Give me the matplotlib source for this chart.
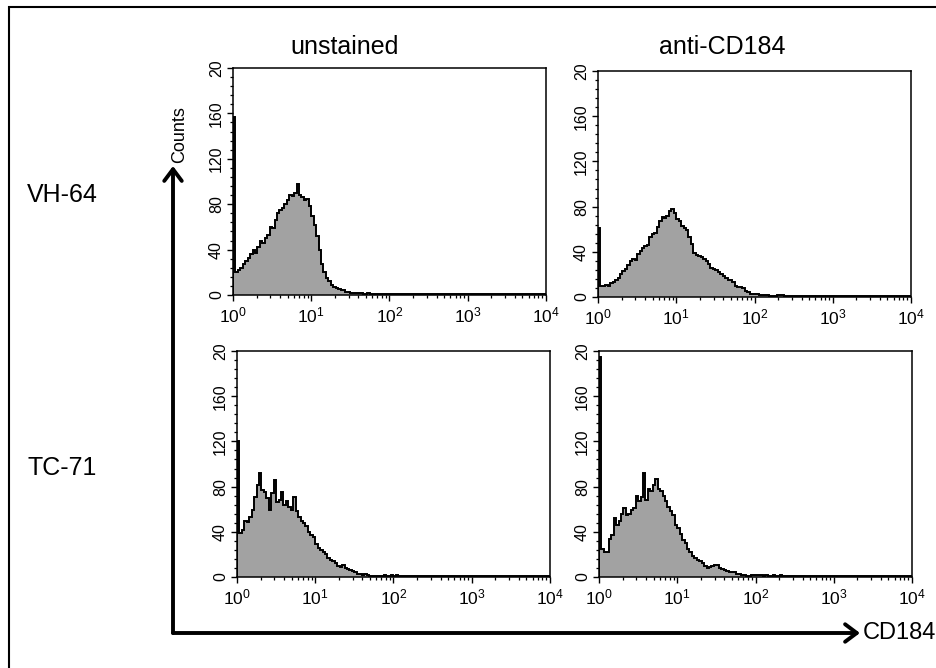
import numpy as np
import matplotlib
matplotlib.use("Agg")
import matplotlib.pyplot as plt
from matplotlib.ticker import FixedLocator, LogLocator, LogFormatterSciNotation, NullFormatter
from matplotlib.patches import Rectangle, FancyArrowPatch

plt.rcParams['font.family'] = ['Liberation Sans', 'DejaVu Sans']
plt.rcParams['mathtext.default'] = 'regular'

# ---------------- data (counts per channel bin, 32 bins per decade, 10^0..10^4) ----------------
row_labels = ["VH-64", "TC-71"]
col_labels = ["unstained", "anti-CD184"]
ytick_vals = [0, 40, 80, 120, 160, 200]
ytick_labels = ["0", "40", "80", "120", "160", "20"]
xtick_exps = [0, 1, 2, 3, 4]

vh64_unstained = [
    157, 20, 22, 24, 27, 30, 33, 36, 40, 37,
    42, 48, 46, 50, 53, 60, 59, 66, 72, 75,
    77, 80, 84, 88, 87, 90, 98, 88, 86, 84,
    85, 78, 70, 62, 52, 40, 27, 20, 15, 12,
    9, 7, 6, 5, 4, 4, 3, 3, 2, 2,
    2, 1.5, 1.5, 1, 1, 1.5, 1, 1, 1, 0.5,
    1, 1, 0.5, 1, 0.5, 0.5, 1, 0.5, 0.5, 0.5,
    1, 0.5, 0.5, 0.5, 0.5, 0.5, 1, 0.5, 0.5, 0.5,
    0.5, 0.5, 0.5, 0.5, 0.5, 0.5, 0.5, 0.5, 0.5, 0.5,
    0.5, 0.5, 0.5, 0.5, 0.5, 0.5, 0.5, 0.5, 0.5, 0.5,
    0.5, 0.5, 0.5, 0.5, 0.5, 0.5, 0.5, 0.5, 0.5, 0.5,
    0.5, 0.5, 0.5, 0.5, 0.5, 0.5, 0.5, 0.5, 0.5, 0.5,
    0.5, 0.5, 0.5, 0.5, 0.5, 0.5, 0.5, 1,
]

vh64_cd184 = [
    61, 10, 10, 11, 10, 12, 13, 15, 17, 20,
    23, 25, 28, 32, 34, 33, 38, 41, 43, 45,
    46, 53, 56, 57, 62, 67, 71, 70, 72, 76,
    78, 74, 69, 67, 63, 61, 59, 53, 47, 39,
    37, 36, 35, 34, 32, 29, 26, 25, 24, 22,
    20, 19, 17, 15, 15, 13, 10, 9, 9, 8,
    5, 4, 3, 3, 3, 2.5, 2, 2, 2, 1.5,
    1, 0.5, 1, 1.5, 2, 1.5, 1, 1, 0.5, 1,
    1, 0.5, 0.5, 1, 0.5, 0.5, 0.5, 0.5, 0.5, 0.5,
    0.5, 0.5, 0.5, 0.5, 0.5, 0.5, 0.5, 0.5, 0.5, 0.5,
    0.5, 0.5, 0.5, 0.5, 0.5, 0.5, 0.5, 0.5, 1, 0.5,
    0.5, 0.5, 0.5, 0.5, 0.5, 0.5, 0.5, 0.5, 0.5, 0.5,
    0.5, 0.5, 0.5, 0.5, 0.5, 0.5, 0.5, 1,
]

tc71_unstained = [
    120, 39, 42, 50, 49, 53, 59, 71, 81, 92,
    77, 75, 70, 59, 74, 86, 66, 68, 75, 64,
    67, 62, 59, 71, 58, 53, 50, 48, 45, 40,
    37, 35, 29, 26, 24, 22, 20, 17, 15, 14,
    12, 10, 9, 11, 8, 7, 6, 5, 4, 3,
    3, 2, 3, 2, 1, 1, 1, 0.5, 0.5, 1,
    1.5, 1, 1, 2, 1, 1.5, 1, 1, 0.5, 1,
    1, 0.5, 1, 0.5, 0.5, 1, 0.5, 1, 0.5, 0.5,
    0.5, 0.5, 1, 0.5, 0.5, 0.5, 0.5, 0.5, 0.5, 0.5,
    0.5, 0.5, 0.5, 0.5, 0.5, 0.5, 0.5, 0.5, 0.5, 0.5,
    0.5, 0.5, 0.5, 0.5, 0.5, 0.5, 0.5, 0.5, 0.5, 0.5,
    0.5, 0.5, 0.5, 0.5, 0.5, 0.5, 0.5, 0.5, 0.5, 0.5,
    0.5, 0.5, 0.5, 0.5, 0.5, 0.5, 0.5, 1,
]

tc71_cd184 = [
    195, 25, 22, 22, 34, 37, 52, 46, 50, 56,
    61, 55, 56, 59, 61, 72, 67, 71, 92, 68,
    78, 76, 81, 87, 78, 76, 72, 67, 62, 58,
    55, 46, 43, 38, 33, 30, 25, 22, 19, 17,
    15, 14, 12, 10, 8, 9, 10, 11, 11, 8,
    7, 6, 5, 4, 4, 4, 3, 3, 2, 2,
    1, 1, 1.5, 2, 2, 1.5, 1.5, 1, 1.5, 1,
    1, 1.5, 1, 1, 1.5, 1, 1, 0.5, 1, 1,
    1, 0.5, 1, 0.5, 1, 0.5, 0.5, 1, 0.5, 0.5,
    0.5, 0.5, 0.5, 1, 0.5, 0.5, 0.5, 0.5, 0.5, 0.5,
    0.5, 0.5, 0.5, 0.5, 0.5, 1, 0.5, 0.5, 0.5, 0.5,
    0.5, 0.5, 0.5, 0.5, 0.5, 0.5, 0.5, 0.5, 0.5, 0.5,
    0.5, 0.5, 0.5, 0.5, 0.5, 0.5, 0.5, 1,
]

panels = [[vh64_unstained, vh64_cd184], [tc71_unstained, tc71_cd184]]

# ---------------- figure ----------------
W, H = 936, 668
fig = plt.figure(figsize=(W / 100, H / 100), dpi=100)
fig.patch.set_facecolor("white")


def fx(px):
    return px / W


def fy(py):
    return 1 - py / H


# axes boxes in pixel coords (left, top, right, bottom)
boxes = [[(233, 68, 546, 295), (598, 71, 911, 297)],
         [(237, 351, 550, 577), (599, 351, 912, 577)]]

n_bins = len(vh64_unstained)
edges = np.logspace(0, 4, n_bins + 1)

for r in range(2):
    for c in range(2):
        l, t, rr, b = boxes[r][c]
        ax = fig.add_axes([fx(l), fy(b), (rr - l) / W, (b - t) / H])
        vals = np.array(panels[r][c], dtype=float)
        ax.stairs(vals, edges, baseline=0, fill=True, color="#a2a2a2", lw=0)
        ax.stairs(vals, edges, baseline=0, color="black", lw=1.4)
        ax.set_xscale("log")
        ax.set_xlim(1, 1e4)
        ax.set_ylim(0, 200)
        ax.xaxis.set_major_locator(FixedLocator([10.0 ** e for e in xtick_exps]))
        ax.xaxis.set_major_formatter(LogFormatterSciNotation())
        ax.xaxis.set_minor_locator(LogLocator(base=10, subs=np.arange(2, 10), numticks=20))
        ax.xaxis.set_minor_formatter(NullFormatter())
        ax.set_yticks(ytick_vals)
        ax.set_yticklabels(ytick_labels, rotation=90, va="center")
        ax.set_yticks(np.arange(0, 201, 8), minor=True)
        ax.tick_params(axis="both", which="major", direction="out", length=4.5, width=1.0,
                       labelsize=11.5, pad=2, colors="black")
        ax.tick_params(axis="both", which="minor", direction="out", length=2.5, width=0.9)
        ax.tick_params(axis="x", which="major", pad=3, labelsize=12.5)
        for s in ax.spines.values():
            s.set_linewidth(1.1)
            s.set_color("black")
        ax.set_facecolor("white")

# column titles
fig.text(fx(345), fy(47), col_labels[0], ha="center", va="center", fontsize=18)
fig.text(fx(722), fy(47), col_labels[1], ha="center", va="center", fontsize=18)

# row labels
fig.text(fx(27), fy(195), row_labels[0], ha="left", va="center", fontsize=18)
fig.text(fx(27), fy(468), row_labels[1], ha="left", va="center", fontsize=18)

# big axis arrows
for end in [(173, 166), (860, 633)]:
    fig.patches.append(FancyArrowPatch(
        (fx(173), fy(633)), (fx(end[0]), fy(end[1])), transform=fig.transFigure,
        arrowstyle="->,head_length=0.6,head_width=0.45", lw=2.8, color="black",
        mutation_scale=14, shrinkA=0, shrinkB=0))
fig.text(fx(180), fy(135), "Counts", rotation=90, ha="center", va="center", fontsize=13)
fig.text(fx(863), fy(633), "CD184", ha="left", va="center", fontsize=17)

# outer frame
fig.patches.append(Rectangle((fx(9), fy(700)), (1000 - 9) / W, (700 - 7) / H,
                             transform=fig.transFigure, fill=False, lw=1.5,
                             edgecolor="black"))

fig.savefig("out.png", dpi=100, facecolor="white")
